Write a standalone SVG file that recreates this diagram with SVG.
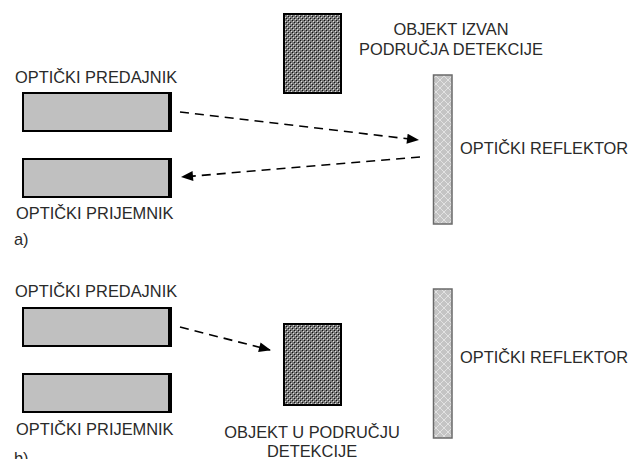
<svg xmlns="http://www.w3.org/2000/svg" width="630" height="459" viewBox="0 0 630 459">
  <defs>
    <!-- dense dark texture for the obstacle objects -->
    <pattern id="objFill" width="4" height="4" patternUnits="userSpaceOnUse">
      <rect width="4" height="4" fill="#7a7a7a"/>
      <rect x="0" y="0" width="1" height="1" fill="#111"/>
      <rect x="2" y="2" width="1" height="1" fill="#111"/>
      <rect x="1" y="1" width="1" height="1" fill="#ddd"/>
      <rect x="3" y="3" width="1" height="1" fill="#ddd"/>
    </pattern>
    <!-- light diamond cross-hatch for the reflectors -->
    <pattern id="reflFill" width="8" height="8" patternUnits="userSpaceOnUse">
      <rect width="8" height="8" fill="#c4c4c4"/>
      <path d="M0 0 L8 8 M8 0 L0 8" stroke="#e2e2e2" stroke-width="1"/>
    </pattern>
    <marker id="arrow" viewBox="0 0 12 10" refX="11" refY="5" markerWidth="13" markerHeight="10" markerUnits="userSpaceOnUse" orient="auto">
      <path d="M0 0 L12 5 L0 10 Z" fill="#000"/>
    </marker>
  </defs>
  <style>
    .lbl { font-family: "Liberation Sans", Arial, sans-serif; font-size: 16.4px; fill: #2a2a2a; }
    .mid { text-anchor: middle; }
    .dev { fill: #c0c0c0; stroke: #000; stroke-width: 2; }
    .lens { stroke: #000; stroke-width: 4; }
    .obj { fill: url(#objFill); stroke: #000; stroke-width: 2; }
    .refl { fill: url(#reflFill); stroke: #6a6a6a; stroke-width: 1.5; }
    .beam { fill: none; stroke: #000; stroke-width: 1.6; stroke-dasharray: 9 6; marker-end: url(#arrow); }
  </style>

  <!-- (a) beam returns from the reflector -->
  <g id="a-transmitter">
    <text class="lbl" x="15" y="83">OPTIČKI PREDAJNIK</text>
    <rect class="dev" x="23" y="93" width="147" height="38"/>
    <line class="lens" x1="170" y1="92" x2="170" y2="132"/>
  </g>
  <g id="a-receiver">
    <rect class="dev" x="23" y="159" width="147" height="38"/>
    <line class="lens" x1="170" y1="158" x2="170" y2="198"/>
    <text class="lbl" x="16" y="219">OPTIČKI PRIJEMNIK</text>
    <text class="lbl" x="14" y="245">a)</text>
  </g>
  <g id="a-object">
    <rect class="obj" x="284" y="14" width="57" height="79"/>
    <text class="lbl mid" x="451" y="35">OBJEKT IZVAN</text>
    <text class="lbl mid" x="451" y="55">PODRUČJA DETEKCIJE</text>
  </g>
  <g id="a-reflector">
    <rect class="refl" x="433.5" y="75" width="18.5" height="149"/>
    <text class="lbl" x="460" y="154">OPTIČKI REFLEKTOR</text>
  </g>

  <!-- (b) beam interrupted by the object -->
  <g id="b-transmitter">
    <text class="lbl" x="15" y="297">OPTIČKI PREDAJNIK</text>
    <rect class="dev" x="23" y="308" width="147" height="38"/>
    <line class="lens" x1="170" y1="307" x2="170" y2="347"/>
  </g>
  <g id="b-receiver">
    <rect class="dev" x="23" y="374" width="147" height="38"/>
    <line class="lens" x1="170" y1="373" x2="170" y2="413"/>
    <text class="lbl" x="16" y="435">OPTIČKI PRIJEMNIK</text>
    <text class="lbl" x="14" y="464">b)</text>
  </g>
  <g id="b-object">
    <rect class="obj" x="284" y="324" width="57" height="81"/>
    <text class="lbl mid" x="312" y="438">OBJEKT U PODRUČJU</text>
    <text class="lbl mid" x="312" y="457">DETEKCIJE</text>
  </g>
  <g id="b-reflector">
    <rect class="refl" x="433.5" y="289" width="18.5" height="149"/>
    <text class="lbl" x="460" y="363">OPTIČKI REFLEKTOR</text>
  </g>

  <g id="connectors">
    <path class="beam" d="M180 112 L418 140"/>
    <path class="beam" d="M420 157 L182 177"/>
    <path class="beam" d="M180 327 L270 350"/>
  </g>
</svg>
